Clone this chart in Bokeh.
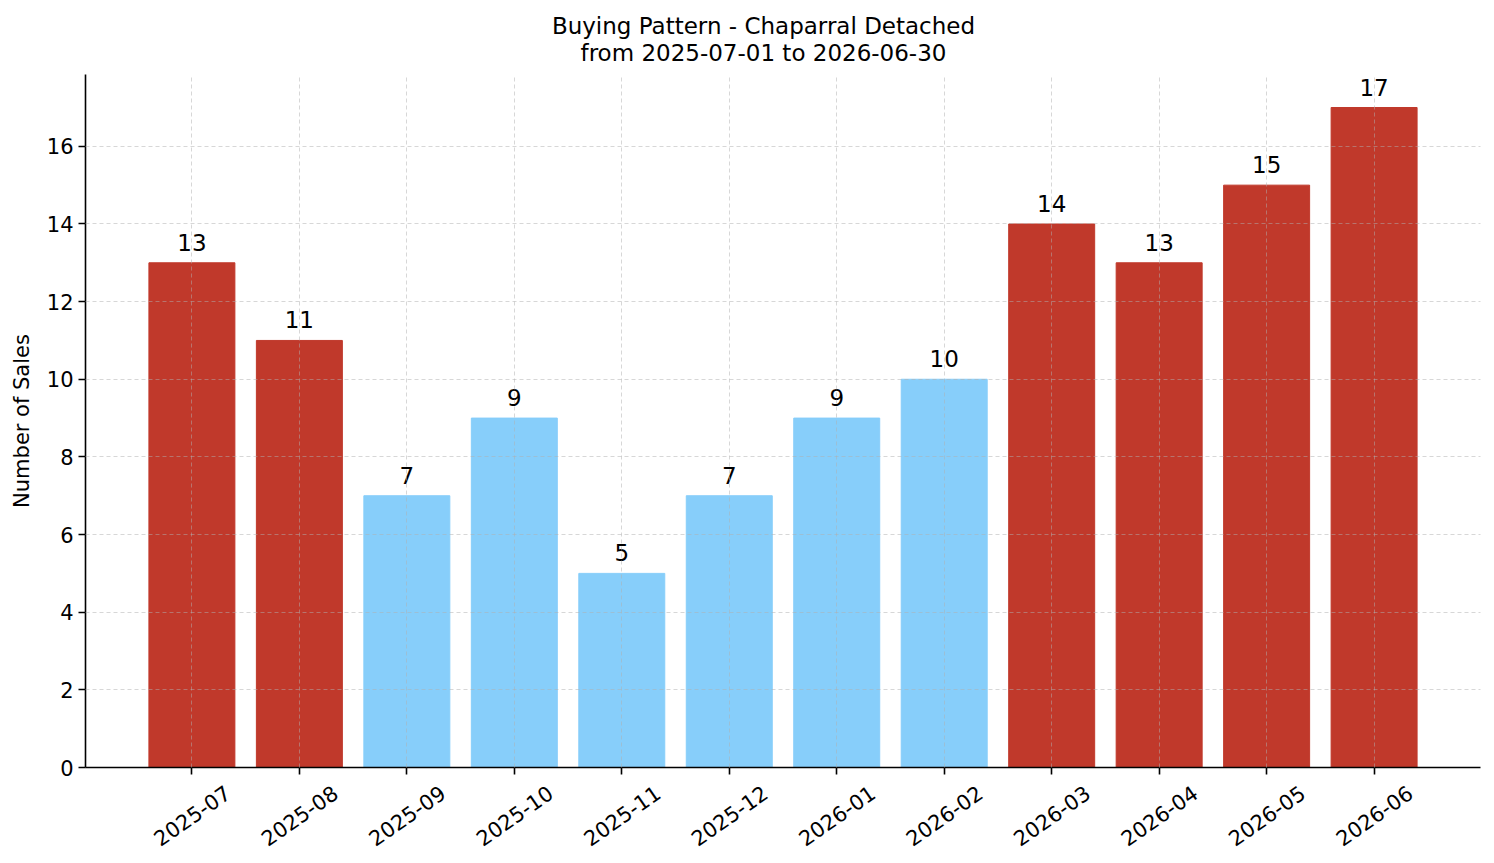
import math

from bokeh.core.properties import value
from bokeh.embed import file_html
from bokeh.layouts import column
from bokeh.models import ColumnDataSource, FixedTicker, Range1d
from bokeh.plotting import figure
from bokeh.resources import INLINE

# Monthly sales counts
months = ["2025-07", "2025-08", "2025-09", "2025-10", "2025-11", "2025-12",
          "2026-01", "2026-02", "2026-03", "2026-04", "2026-05", "2026-06"]
sales = [13, 11, 7, 9, 5, 7, 9, 10, 14, 13, 15, 17]
y_ticks = [0, 2, 4, 6, 8, 10, 12, 14, 16]
title_lines = ["Buying Pattern - Chaparral Detached",
               "from 2025-07-01 to 2026-06-30"]

HIGH_COLOR = "#c0392b"
LOW_COLOR = "#87cefa"
FONT = "DejaVu Sans"

WIDTH = 1494
HEADER_HEIGHT = 74
MAIN_HEIGHT = 706
STRIP_HEIGHT = 83
LEFT, RIGHT = 85, 14


def bare(fig):
    fig.outline_line_color = None
    fig.xgrid.visible = False
    fig.ygrid.visible = False
    fig.border_fill_color = "white"
    fig.background_fill_color = "white"
    return fig


mean_sales = sum(sales) / len(sales)
xs = list(range(len(months)))
colors = [HIGH_COLOR if s > mean_sales else LOW_COLOR for s in sales]

source = ColumnDataSource(dict(
    x=xs, top=sales, color=colors, label=[str(s) for s in sales],
    month=months, row=[1] * len(months),
))

x_range = Range1d(-0.99, len(months) - 1 + 0.99)

# Header: two centred title lines, laid out in page-pixel units
header = bare(figure(
    width=WIDTH, height=HEADER_HEIGHT,
    output_backend="svg", toolbar_location=None,
    x_range=Range1d(LEFT, WIDTH - RIGHT), y_range=Range1d(0, HEADER_HEIGHT),
    x_axis_location=None, y_axis_location=None,
    min_border_left=LEFT, min_border_right=RIGHT,
    min_border_top=0, min_border_bottom=0,
))
header.text(x=[763, 763], y=[49, 22], text=title_lines,
            text_align="center", text_baseline="alphabetic",
            text_font=value(FONT), text_font_size="23px", text_color="black")

# Main bar chart
p = figure(
    width=WIDTH, height=MAIN_HEIGHT,
    output_backend="svg", toolbar_location=None,
    x_range=x_range,
    y_range=Range1d(0, max(sales) * 1.05),
    min_border_left=LEFT, min_border_right=RIGHT,
    min_border_top=0, min_border_bottom=13,
)
p.outline_line_color = None
p.background_fill_color = "white"
p.border_fill_color = "white"

p.vbar(x="x", top="top", width=0.8, bottom=0, color="color", source=source)

# value labels above each bar
p.text(x="x", y="top", text="label", source=source,
       text_align="center", text_baseline="bottom", y_offset=-12,
       text_font=value(FONT), text_font_size="23px", text_color="black")

for ax in (p.xaxis[0], p.yaxis[0]):
    ax.axis_line_color = "black"
    ax.axis_line_width = 1.6
    ax.major_tick_line_color = "black"
    ax.major_tick_line_width = 1.6
    ax.major_tick_out = 7
    ax.major_tick_in = 0
    ax.minor_tick_line_color = None
    ax.major_label_text_font = FONT
    ax.major_label_text_font_size = "21px"
    ax.major_label_text_color = "black"
    ax.major_label_standoff = 5

# bottom axis: tick marks only (month names live in the strip below)
p.xaxis.ticker = FixedTicker(ticks=[], minor_ticks=xs)
p.xaxis.minor_tick_line_color = "black"
p.xaxis.minor_tick_line_width = 1.6
p.xaxis.minor_tick_out = 7
p.xaxis.minor_tick_in = 0
p.xaxis.major_label_standoff = 0

p.yaxis.ticker = FixedTicker(ticks=y_ticks)
p.yaxis.axis_label = "Number of Sales"
p.yaxis.axis_label_text_font = FONT
p.yaxis.axis_label_text_font_size = "21px"
p.yaxis.axis_label_text_font_style = "normal"
p.yaxis.axis_label_text_color = "black"
p.yaxis.axis_label_standoff = 10

for g in (p.xgrid[0], p.ygrid[0]):
    g.grid_line_color = "#b0b0b0"
    g.grid_line_alpha = 0.5
    g.grid_line_width = 1
    g.grid_line_dash = "4 3"
    g.level = "annotation"
p.xgrid.ticker = FixedTicker(ticks=xs)
p.ygrid.ticker = FixedTicker(ticks=y_ticks)

# Strip under the chart holding the rotated month labels, centred on each tick
strip = bare(figure(
    width=WIDTH, height=STRIP_HEIGHT,
    output_backend="svg", toolbar_location=None,
    x_range=x_range, y_range=Range1d(0, 1),
    x_axis_location=None, y_axis_location=None,
    min_border_left=LEFT, min_border_right=RIGHT,
    min_border_top=0, min_border_bottom=0,
))
strip.text(x="x", y="row", text="month", source=source,
           angle=math.radians(35), text_align="center",
           text_baseline="middle", y_offset=35,
           text_font=value(FONT), text_font_size="21px", text_color="black")

layout = column(header, p, strip, spacing=0)

open("out.html", "w").write(file_html(layout, INLINE))
